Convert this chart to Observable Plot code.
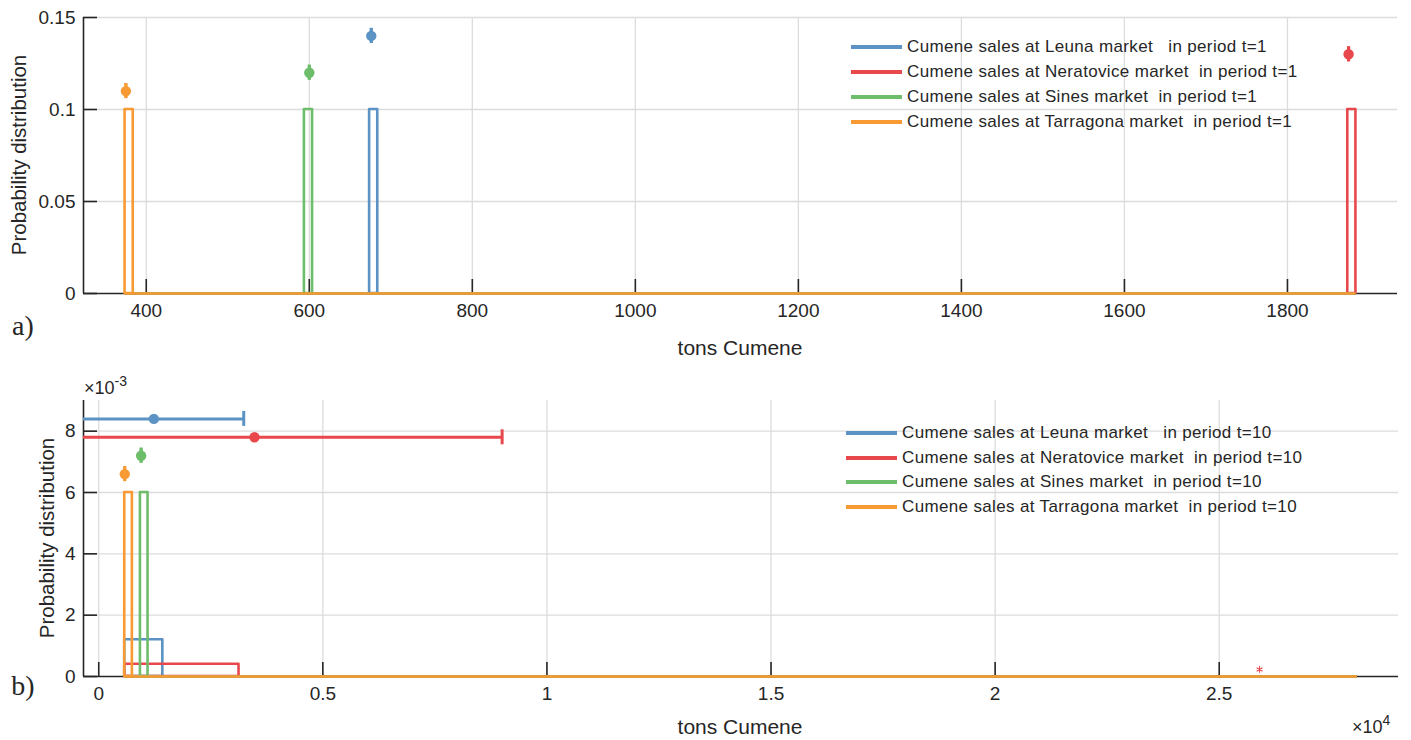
<!DOCTYPE html>
<html>
<head>
<meta charset="utf-8">
<script src="https://cdn.jsdelivr.net/npm/d3@7"></script>
<script src="https://cdn.jsdelivr.net/npm/@observablehq/plot@0.6"></script>
<style>
  body { margin: 0; background: #fff; }
  #fig { position: relative; width: 1411px; height: 740px; overflow: hidden;
         font-family: "Liberation Sans", Arial, sans-serif; color: #262626; }
  .panel { position: absolute; left: 0; width: 1411px; }
  .txt { position: absolute; white-space: pre; line-height: 1; }
  .center { transform: translate(-50%, -50%); }
  .ylab { transform: translate(-50%, -50%) rotate(-90deg); font-size: 20.5px; }
  .xlab { font-size: 21px; }
  .tag { font-family: "Liberation Serif", "Times New Roman", serif; font-size: 28px; }
  .exp { font-size: 18px; line-height: 18px; }
  .exp sup { font-size: 14px; line-height: 0; position: relative; top: -8px; vertical-align: baseline; }
  .legend { position: absolute; font-size: 17px; letter-spacing: 0.35px; }
  .legend .row { position: absolute; left: 0; white-space: pre; display: flex; align-items: center; }
  .legend .sw { display: inline-block; width: 51px; height: 4px; margin-right: 5px; }
</style>
</head>
<body>
<div id="fig"></div>
<script>
// Markets and their series colours
const markets = ["Leuna", "Neratovice", "Sines", "Tarragona"];
const colors = ["#5a93c4", "#e8484b", "#6dbd6a", "#f89a33"];

// Period t=1: histogram bin (pdf normalised) and mean ± sd of cumene sales
const t1BinLo = [674, 1874, 594, 374];
const t1BinHi = [684, 1884, 604, 384];
const t1BinHeight = [0.1, 0.1, 0.1, 0.1];
const t1Span = [374, 1884];
const t1Mean = [676, 1875, 600, 375];
const t1MeanLevel = [0.14, 0.13, 0.12, 0.11];
const t1Sd = [0, 0, 0, 0];
const t1XTicks = [400, 600, 800, 1000, 1200, 1400, 1600, 1800];
const t1YTicks = [0, 0.05, 0.1, 0.15];

// Period t=10
const t10BinLo = [580, 580, 930, 580];
const t10BinHi = [1430, 3130, 1100, 750];
const t10BinHeight = [0.0012, 0.0004, 0.006, 0.006];
const t10Span = [580, 28080];
const t10Mean = [1230, 3475, 946, 580];
const t10MeanLevel = [0.0084, 0.0078, 0.0072, 0.0066];
const t10Sd = [2005, 5525, 0, 0];
const t10Outliers = [{x: 25900, y: 0.00023, color: "#e8484b"}];
const t10XTicks = [0, 5000, 10000, 15000, 20000, 25000];
const t10YTicks = [0, 0.002, 0.004, 0.006, 0.008];

const ink = "#262626";
const gridColor = "#dcdcdc";
const fig = document.getElementById("fig");

function drawPanel(p) {
  const series = markets.map((m, i) => ({
    market: m, color: colors[i],
    lo: p.binLo[i], hi: p.binHi[i], h: p.binHeight[i],
    mean: p.mean[i], level: p.level[i], sd: p.sd[i]
  }));
  const x0 = p.xDomain[0];
  const marks = [
    // grid
    Plot.ruleX(p.xTicks, {x: d => d, stroke: gridColor, strokeWidth: 1.3}),
    Plot.ruleY(p.yTicks.filter(d => d > 0), {y: d => d, stroke: gridColor, strokeWidth: 1.3}),
    // axis lines and inward ticks
    Plot.ruleY([0], {stroke: ink, strokeWidth: 1.6}),
    Plot.ruleX([x0], {stroke: ink, strokeWidth: 1.6}),
    Plot.ruleX(p.xTicks, {x: d => d, y1: 0, y2: 0, insetTop: -14, stroke: ink, strokeWidth: 1.6}),
    Plot.ruleY(p.yTicks, {y: d => d, x1: x0, x2: x0, insetRight: -14, stroke: ink, strokeWidth: 1.6}),
    Plot.axisX(p.xTicks, {tickSize: 0, tickPadding: 10, tickFormat: p.xFormat, label: null, fontSize: 19}),
    Plot.axisY(p.yTicks, {tickSize: 0, tickPadding: 8, tickFormat: p.yFormat, label: null, fontSize: 19})
  ];
  // histogram outlines (stairs style), drawn in series order
  for (const s of series) {
    marks.push(Plot.rect([s], {x1: "lo", x2: "hi", y1: 0, y2: "h", fill: "none", stroke: s.color,
      strokeWidth: 2.6, strokeLinejoin: "round"}));
    marks.push(Plot.ruleY([{a: p.span[0], b: p.span[1]}], {y: 0, x1: "a", x2: "b", stroke: s.color, strokeWidth: 2.6}));
  }
  // mean with horizontal sd error bars
  marks.push(Plot.ruleY(series, {y: "level", x1: d => d.mean - d.sd, x2: d => d.mean + d.sd,
    stroke: "color", strokeWidth: 3, clip: true}));
  marks.push(Plot.ruleX(series, {x: d => d.mean - d.sd, y1: "level", y2: "level", insetTop: -7.5, insetBottom: -7.5,
    stroke: "color", strokeWidth: 3, clip: true}));
  marks.push(Plot.ruleX(series, {x: d => d.mean + d.sd, y1: "level", y2: "level", insetTop: -7.5, insetBottom: -7.5,
    stroke: "color", strokeWidth: 3, clip: true}));
  marks.push(Plot.dot(series, {x: "mean", y: "level", r: 5.2, fill: "color", stroke: null}));
  if (p.outliers) {
    marks.push(Plot.dot(p.outliers, {x: "x", y: "y", symbol: "asterisk", r: 3.2, stroke: "color", strokeWidth: 1.1}));
  }
  const chart = Plot.plot({
    width: 1411, height: p.height,
    marginLeft: 83, marginRight: p.marginRight, marginTop: p.marginTop, marginBottom: p.marginBottom,
    x: {domain: p.xDomain},
    y: {domain: p.yDomain},
    color: {type: "identity"},
    style: {fontFamily: '"Liberation Sans", Arial, sans-serif', fontSize: "19px", color: ink, background: "transparent", overflow: "visible"},
    marks
  });
  const wrap = document.createElement("div");
  wrap.className = "panel";
  wrap.style.top = p.top + "px";
  wrap.appendChild(chart);
  fig.appendChild(wrap);
}

drawPanel({
  top: 0, height: 370, marginTop: 17, marginBottom: 77, marginRight: 14,
  xDomain: [323, 1935], yDomain: [0, 0.15],
  xTicks: t1XTicks, yTicks: t1YTicks,
  xFormat: d => String(d), yFormat: d => String(d),
  binLo: t1BinLo, binHi: t1BinHi, binHeight: t1BinHeight, span: t1Span,
  mean: t1Mean, level: t1MeanLevel, sd: t1Sd
});

drawPanel({
  top: 370, height: 370, marginTop: 30, marginBottom: 64, marginRight: 13,
  xDomain: [-340, 29000], yDomain: [0, 0.009],
  xTicks: t10XTicks, yTicks: t10YTicks,
  xFormat: d => String(d / 10000), yFormat: d => String(Math.round(d * 1000)),
  binLo: t10BinLo, binHi: t10BinHi, binHeight: t10BinHeight, span: t10Span,
  mean: t10Mean, level: t10MeanLevel, sd: t10Sd, outliers: t10Outliers
});

// Text labels, multipliers and panel tags
function addText(html, cls, left, top) {
  const el = document.createElement("div");
  el.className = "txt " + cls;
  el.style.left = left + "px";
  el.style.top = top + "px";
  el.innerHTML = html;
  fig.appendChild(el);
}
addText("Probability distribution", "ylab", 19, 155);
addText("Probability distribution", "ylab", 47, 538);
addText("tons Cumene", "xlab center", 740, 347);
addText("tons Cumene", "xlab center", 740, 726);
addText("a)", "tag center", 23, 326);
addText("b)", "tag center", 23, 686);
addText("×10<sup>-3</sup>", "exp", 84, 379);
addText("×10<sup>4</sup>", "exp", 1352, 718);

// Legends
function addLegend(labels, left, top, step) {
  const box = document.createElement("div");
  box.className = "legend";
  box.style.left = left + "px";
  box.style.top = top + "px";
  labels.forEach((label, i) => {
    const row = document.createElement("div");
    row.className = "row";
    row.style.top = (i * step - 10) + "px";
    row.style.height = "20px";
    const sw = document.createElement("span");
    sw.className = "sw";
    sw.style.background = colors[i];
    const tx = document.createElement("span");
    tx.textContent = label;
    row.appendChild(sw);
    row.appendChild(tx);
    box.appendChild(row);
  });
  fig.appendChild(box);
}
const legendT1 = [
  "Cumene sales at Leuna market   in period t=1",
  "Cumene sales at Neratovice market  in period t=1",
  "Cumene sales at Sines market  in period t=1",
  "Cumene sales at Tarragona market  in period t=1"
];
const legendT10 = [
  "Cumene sales at Leuna market   in period t=10",
  "Cumene sales at Neratovice market  in period t=10",
  "Cumene sales at Sines market  in period t=10",
  "Cumene sales at Tarragona market  in period t=10"
];
addLegend(legendT1, 851, 47, 25);
addLegend(legendT10, 846, 433, 24.5);
</script>
</body>
</html>
